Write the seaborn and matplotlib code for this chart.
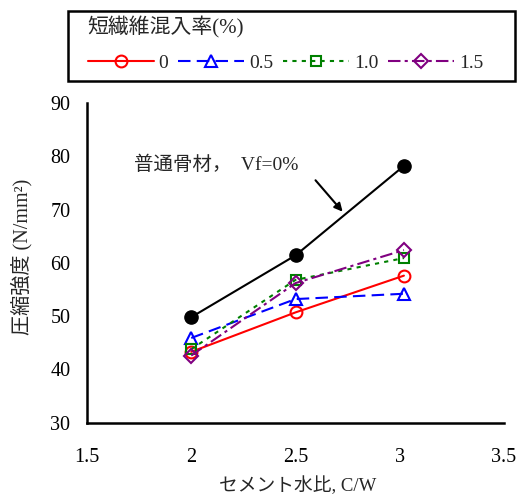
import matplotlib
matplotlib.use("Agg")
import matplotlib.pyplot as plt
from matplotlib.patches import Rectangle
import seaborn as sns
import pandas as pd

# ---- data ----
cw = [2.0, 2.5, 3.02]
normal_agg = [49.8, 61.4, 78.2]
vf_labels = ["0", "0.5", "1.0", "1.5"]
vf_0 = [43.3, 50.7, 57.6]
vf_05 = [45.9, 53.2, 54.2]
vf_10 = [43.8, 56.8, 60.9]
vf_15 = [42.6, 56.2, 62.4]
x_ticks = [1.5, 2.0, 2.5, 3.0, 3.5]
x_tick_labels = ["1.5", "2", "2.5", "3", "3.5"]
y_ticks = [30, 40, 50, 60, 70, 80, 90]

sns.set_style("white")
plt.rcParams["font.family"] = ["Liberation Serif", "Noto Sans CJK JP", "DejaVu Sans"]

W, H = 519, 497
fig = plt.figure(figsize=(W / 100, H / 100), dpi=100)
ax = fig.add_axes([87 / W, 1 - 422.7 / H, (504 - 87) / W, (422.7 - 103) / H])

# normal aggregate line (not in legend)
sns.lineplot(x=cw, y=normal_agg, ax=ax, color="black", lw=1.5, marker="o",
             markersize=9.5, markerfacecolor="black", markeredgecolor="black",
             markeredgewidth=1, legend=False)

series = [
    (vf_0, "#FF0000", "o", (None, None), 8.5),
    (vf_05, "#0000FF", "^", (6, 3), 9),
    (vf_10, "#008000", "s", (2, 2.5), 7.5),
    (vf_15, "#800080", "D", (6, 2, 1.5, 2), 7),
]
handles = []
for (vals, col, mk, dash, ms), lab in zip(series, vf_labels):
    kw = dict(color=col, lw=1.5, marker=mk, markersize=ms,
              markerfacecolor="none", markeredgecolor=col, markeredgewidth=1.5,
              label=lab, legend=False)
    sns.lineplot(x=cw, y=vals, ax=ax, **kw)
    handles.append(ax.lines[-1])

for line, (vals, col, mk, dash, ms) in zip(handles, series):
    if dash[0] is not None:
        line.set_dashes(dash)

ax.set_xlim(1.5, 3.5)
ax.set_ylim(30, 90)
ax.set_xticks(x_ticks)
ax.set_xticklabels(x_tick_labels)
ax.set_yticks(y_ticks)

for s in ["top", "right"]:
    ax.spines[s].set_visible(False)
for s in ["left", "bottom"]:
    ax.spines[s].set_linewidth(1.8)
    ax.spines[s].set_color("black")

ax.tick_params(axis="x", direction="in", length=5, width=1.5, pad=18, labelsize=14.5,
               colors="black")
ax.tick_params(axis="y", direction="in", length=5, width=1.5, pad=12, labelsize=14.5,
               colors="black")

ax.set_xlabel("セメント水比, C/W", fontsize=13.5)
ax.xaxis.set_label_coords(0.505, -0.168)
ax.set_ylabel("圧縮強度 (N/mm²)", fontsize=14.5)
ax.yaxis.set_label_coords(-0.13, 0.52)

ax.annotate("", xy=(2.726, 69.6), xytext=(2.596, 75.5),
            arrowprops=dict(arrowstyle="-|>", color="black", lw=1.5,
                            mutation_scale=12, shrinkA=0, shrinkB=0))
ax.text(1.726, 78.4, "普通骨材，  Vf=0%", fontsize=14, ha="left", va="center")

leg = fig.legend(handles=handles, labels=vf_labels, ncol=4,
                 title="短繊維混入率(%)", alignment="left",
                 loc="upper left", bbox_to_anchor=(78 / W, 1 - 7 / H),
                 frameon=False, borderpad=0, fontsize=14,
                 title_fontsize=15, handlelength=3.4, handletextpad=0.25,
                 columnspacing=0.5, labelspacing=0.8)
fig.patches.append(Rectangle((68 / W, 1 - 81 / H), (515 - 68) / W, 70 / H,
                             transform=fig.transFigure, fill=False,
                             lw=1.8, ec="black"))

fig.savefig("out.png", dpi=100)
